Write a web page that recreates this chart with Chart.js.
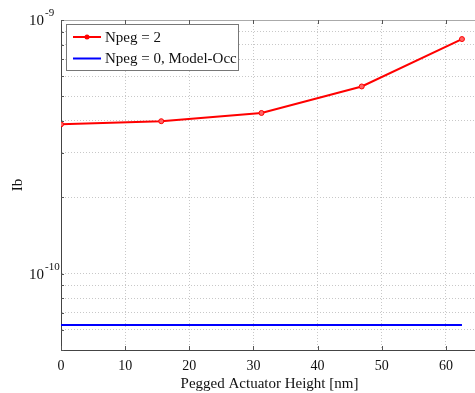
<!DOCTYPE html>
<html>
<head>
<meta charset="utf-8">
<script src="https://cdn.jsdelivr.net/npm/chart.js@4"></script>
<style>
  body { margin: 0; background: #fff; overflow: hidden; }
  #wrap { width: 483px; height: 393px; }
</style>
</head>
<body>
<div id="wrap"><canvas id="myChart1"></canvas></div>
<script>
const heights = [0, 15.625, 31.25, 46.875, 62.5];
const ibNpeg2 = [3.88e-10, 3.99e-10, 4.30e-10, 5.47e-10, 8.41e-10];
const ibNpeg0 = [6.27e-11, 6.27e-11, 6.27e-11, 6.27e-11, 6.27e-11];
const xTicks = [0, 10, 20, 30, 40, 50, 60];
const yGridTicks = [5e-11, 6e-11, 7e-11, 8e-11, 9e-11, 1e-10, 2e-10, 3e-10, 4e-10, 5e-10, 6e-10, 7e-10, 8e-10, 9e-10, 1e-9];
const yLabelTicks = [[1e-10, "-10"], [1e-9, "-9"]];

const serif = "'Liberation Serif', 'Times New Roman', serif";

const boxPlugin = {
  id: "box",
  afterDraw(chart) {
    const c = chart.ctx, a = chart.chartArea;
    const x = chart.scales.x, y = chart.scales.y;
    c.save();
    // top border
    c.strokeStyle = "#aaa";
    c.lineWidth = 1;
    c.beginPath();
    c.moveTo(a.left, a.top + 0.5);
    c.lineTo(a.right, a.top + 0.5);
    c.stroke();
    // inner tick marks
    c.strokeStyle = "#555";
    c.beginPath();
    xTicks.forEach(v => {
      const px = Math.round(x.getPixelForValue(v)) + 0.5;
      c.moveTo(px, a.bottom); c.lineTo(px, a.bottom - 4);
      c.moveTo(px, a.top); c.lineTo(px, a.top + 4);
    });
    yGridTicks.forEach(v => {
      const py = Math.round(y.getPixelForValue(v)) + 0.5;
      c.moveTo(a.left, py); c.lineTo(a.left + 3, py);
    });
    c.stroke();
    // y tick labels 10^n
    c.fillStyle = "#111";
    c.textBaseline = "middle";
    yLabelTicks.forEach(([v, exp]) => {
      const py = y.getPixelForValue(v);
      c.font = "15px " + serif;
      c.textAlign = "right";
      c.fillText("10", 44, py + 1);
      c.font = "11px " + serif;
      c.textAlign = "left";
      c.fillText(exp, 45, py - 7);
    });
    // legend
    const lx = a.left + 5, ly = a.top + 4, lw = 172, lh = 46;
    c.fillStyle = "#fff";
    c.fillRect(lx, ly, lw, lh);
    c.strokeStyle = "#777";
    c.strokeRect(lx + 0.5, ly + 0.5, lw, lh);
    chart.data.datasets.forEach((ds, i) => {
      const ry = ly + 13 + i * 21.5;
      c.strokeStyle = ds.borderColor;
      c.lineWidth = 2;
      c.beginPath();
      c.moveTo(lx + 7, ry); c.lineTo(lx + 35, ry);
      c.stroke();
      if (ds.pointRadius > 0) {
        c.fillStyle = ds.borderColor;
        c.beginPath();
        c.arc(lx + 21, ry, 2.5, 0, Math.PI * 2);
        c.fill();
      }
      c.fillStyle = "#111";
      c.font = "15px " + serif;
      c.textAlign = "left";
      c.textBaseline = "middle";
      c.fillText(ds.label, lx + 39, ry + 1);
    });
    c.restore();
  }
};

const ctx = document.getElementById("myChart1").getContext("2d");
const myChart = new Chart(ctx, {
  type: "line",
  data: {
    datasets: [
      {
        label: "Npeg = 2",
        data: heights.map((h, i) => ({ x: h, y: ibNpeg2[i] })),
        borderColor: "#ff0000",
        backgroundColor: "#ff0000",
        borderWidth: 2,
        pointRadius: 2.5,
        pointBorderWidth: 1,
        pointBackgroundColor: "#ff6666",
      },
      {
        label: "Npeg = 0, Model-Occ",
        data: heights.map((h, i) => ({ x: h, y: ibNpeg0[i] })),
        borderColor: "#0000ff",
        backgroundColor: "#0000ff",
        borderWidth: 2,
        pointRadius: 0,
      },
    ],
  },
  options: {
    responsive: true,
    maintainAspectRatio: false,
    animation: false,
    layout: { padding: { top: 20, right: 2, left: 0, bottom: 0 } },
    plugins: {
      legend: { display: false },
      tooltip: { enabled: false },
    },
    scales: {
      x: {
        type: "linear",
        min: 0,
        max: 65,
        afterBuildTicks: (s) => { s.ticks = xTicks.map(v => ({ value: v })); },
        afterFit: (s) => { s.height = 43; },
        ticks: { color: "#111", font: { family: serif, size: 14 }, padding: 8, maxRotation: 0 },
        grid: { color: "#c8c8c8", drawTicks: false },
        border: { color: "#444", dash: [1, 2] },
        title: {
          display: true,
          text: "Pegged Actuator Height [nm]",
          color: "#111",
          font: { family: serif, size: 15 },
          padding: { top: 1, bottom: 0 },
        },
      },
      y: {
        type: "logarithmic",
        min: 5e-11,
        max: 1e-9,
        afterBuildTicks: (s) => { s.ticks = yGridTicks.map(v => ({ value: v })); },
        afterFit: (s) => { s.width = 61; },
        ticks: { display: false },
        grid: { color: "#c8c8c8", drawTicks: false },
        border: { color: "#444", dash: [1, 2] },
        title: {
          display: true,
          text: "Ib",
          color: "#111",
          font: { family: serif, size: 15 },
          padding: { top: 9, bottom: 0 },
        },
      },
    },
  },
  plugins: [boxPlugin],
});
</script>
</body>
</html>
